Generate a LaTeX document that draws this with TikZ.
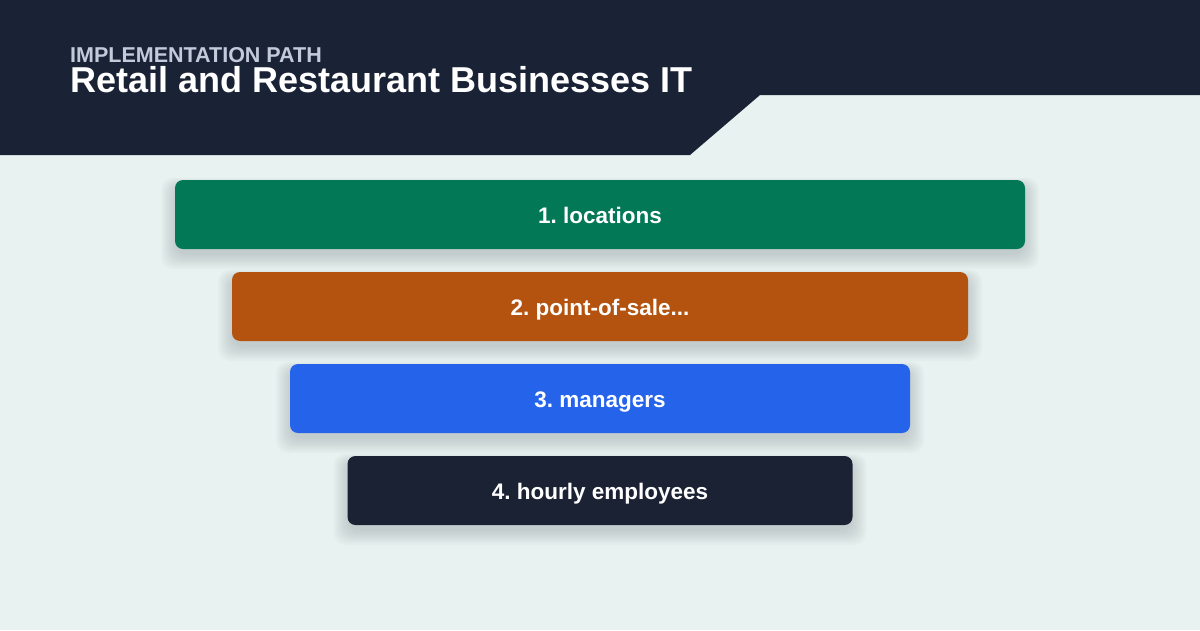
\documentclass[tikz,border=0pt]{standalone}
\usepackage{fontspec}
\setmainfont{Liberation Sans}
\definecolor{bg}{HTML}{E8F2F0}
\definecolor{navy}{HTML}{1A2236}
\definecolor{subt}{HTML}{C3CADA}
\definecolor{cgreen}{HTML}{037857}
\definecolor{corange}{HTML}{B45310}
\definecolor{cblue}{HTML}{2563EB}
\definecolor{cdark}{HTML}{1A2234}
\tikzset{
  x=1pt,y=-1pt,
  bar/.style={rounded corners=8pt, minimum height=69pt, inner sep=0pt},
  lbl/.style={anchor=base, inner sep=0pt, text=white, font=\fontsize{22.5}{26}\selectfont\bfseries},
  shd/.style={fill=black!60!navy, fill opacity=0.018, rounded corners=12pt},
}
\newcommand{\barshadow}[3]{% center x, center y, width
  \foreach \i in {0,2,...,14}{
    \fill[shd] (#1-#3/2-\i,#2-34.5+6-\i*0.6) rectangle (#1+#3/2+\i,#2+34.5+6+\i);
  }
}
\begin{document}
\begin{tikzpicture}
\frenchspacing
\fill[bg] (0,0) rectangle (1200,630);
\useasboundingbox (0,0) rectangle (1200,630);
\fill[navy] (0,0) -- (1200,0) -- (1200,95) -- (760,95) -- (690,155) -- (0,155) -- cycle;
\node[anchor=base west, inner sep=0pt, text=subt, font=\fontsize{21.5}{24}\selectfont\bfseries] (sub) at (70,62) {IMPLEMENTATION PATH};
\node[anchor=base west, inner sep=0pt, text=white, font=\fontsize{36}{40}\selectfont\bfseries] (title) at (70,92) {Retail and Restaurant Businesses IT};
\barshadow{600}{214.5}{850}
\barshadow{600}{306.5}{736}
\barshadow{600}{398.5}{620}
\barshadow{600}{490.5}{505}
\node[bar, fill=cgreen, minimum width=850pt] (b1) at (600,214.5) {};
\node[bar, fill=corange, minimum width=736pt] (b2) at (600,306.5) {};
\node[bar, fill=cblue, minimum width=620pt] (b3) at (600,398.5) {};
\node[bar, fill=cdark, minimum width=505pt] (b4) at (600,490.5) {};
\node[lbl] (t1) at ([yshift=-9pt]b1.center) {1. locations};
\node[lbl] (t2) at ([yshift=-9pt]b2.center) {2. point-of-sale...};
\node[lbl] (t3) at ([yshift=-9pt]b3.center) {3. managers};
\node[lbl] (t4) at ([yshift=-9pt]b4.center) {4. hourly employees};
\end{tikzpicture}
\end{document}
